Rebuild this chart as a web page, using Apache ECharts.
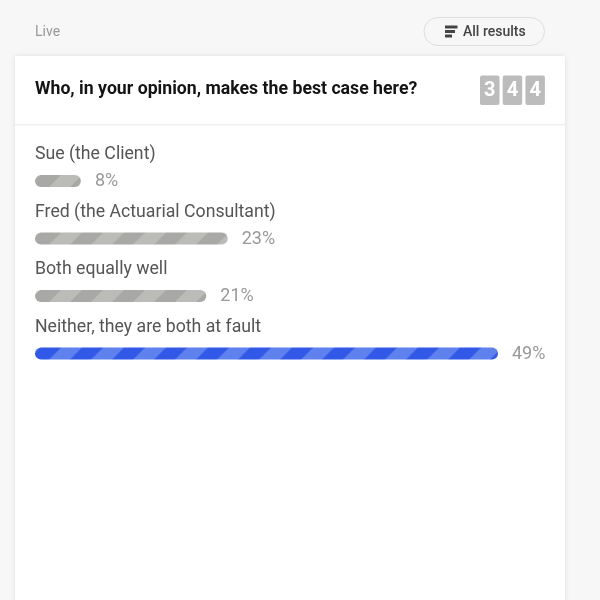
<!DOCTYPE html>
<html>
<head>
<meta charset="utf-8">
<style>
  html, body { margin: 0; padding: 0; background: #f7f7f7; }
  #main { width: 600px; height: 600px; }
</style>
<script src="https://cdn.jsdelivr.net/npm/echarts@6/dist/echarts.min.js"></script>
</head>
<body>
<div id="main"></div>
<script>
'use strict';
// 投票选项
var categories = ['Sue (the Client)', 'Fred (the Actuarial Consultant)', 'Both equally well', 'Neither, they are both at fault'];
// 条形长度读数
var barValues = [8.1, 22.5, 20.4, 49];
// 条形旁边显示的文字
var percentLabels = ['8%', '23%', '21%', '49%'];
var winnerIndex = 3;
var question = 'Who, in your opinion, makes the best case here?';
var voteDigits = ['3', '4', '4'];

var FONT = 'Roboto';
var GRID_TOP = 152.25;
var ROW_H = 57.5;

// 斜条纹贴图
function stripes(dark, light, rowIndex) {
    var size = 42;
    var lightW = 21;
    var c = document.createElement('canvas');
    c.width = size;
    c.height = size;
    var ctx = c.getContext('2d');
    ctx.fillStyle = dark;
    ctx.fillRect(0, 0, size, size);
    ctx.fillStyle = light;
    for (var k = -2; k < 2; k++) {
        ctx.beginPath();
        ctx.moveTo(k * size, size);
        ctx.lineTo(k * size + lightW, size);
        ctx.lineTo(k * size + size + lightW, 0);
        ctx.lineTo(k * size + size, 0);
        ctx.closePath();
        ctx.fill();
    }
    return {
        image: c,
        repeat: 'repeat',
        x: 7,
        y: GRID_TOP + ROW_H * rowIndex + 34.75
    };
}

var barData = barValues.map(function (v, i) {
    return {
        value: v,
        itemStyle: {
            color: i === winnerIndex ? stripes('#3158e6', '#5f81ee', i) : stripes('#a8a8a6', '#bbbbb8', i)
        },
        label: { formatter: percentLabels[i] }
    };
});

var badges = voteDigits.map(function (d, i) {
    return {
        type: 'group',
        children: [
            {
                type: 'rect',
                shape: { x: 480 + i * 22.7, y: 75.5, width: 19.5, height: 29.5, r: 2 },
                style: { fill: '#bcbcbc' }
            },
            {
                type: 'text',
                x: 489.8 + i * 22.7,
                y: 91,
                style: {
                    text: d, fill: '#fff', font: 'bold 20px ' + FONT,
                    align: 'center', verticalAlign: 'middle'
                }
            }
        ]
    };
});

var myChart = echarts.init(document.getElementById('main'), null, { renderer: 'canvas' });
myChart.setOption({
    backgroundColor: '#f7f7f7',
    animation: false,
    title: {
        text: question,
        left: 35,
        top: 81,
        padding: 0,
        textStyle: { fontFamily: FONT, fontSize: 17.7, fontWeight: 'bold', color: '#141414' }
    },
    graphic: {
        elements: [
            {
                type: 'rect',
                shape: { x: 15, y: 56, width: 550, height: 560 },
                style: { fill: '#fff', shadowBlur: 5, shadowColor: 'rgba(0,0,0,0.10)' }
            },
            {
                type: 'rect',
                shape: { x: 15, y: 124, width: 550, height: 1.5 },
                style: { fill: '#eeeff1' }
            },
            {
                type: 'text',
                x: 35,
                y: 32,
                style: { text: 'Live', fill: '#999', font: '14px ' + FONT, verticalAlign: 'middle' }
            },
            {
                type: 'rect',
                shape: { x: 424, y: 17.5, width: 120.5, height: 28, r: 14 },
                style: { fill: '#f7f7f7', stroke: '#dedede', lineWidth: 1 }
            },
            { type: 'rect', shape: { x: 445, y: 25.5, width: 12.5, height: 3 }, style: { fill: '#444' } },
            { type: 'rect', shape: { x: 445, y: 30, width: 10, height: 3 }, style: { fill: '#444' } },
            { type: 'rect', shape: { x: 445, y: 34.5, width: 7, height: 3 }, style: { fill: '#444' } },
            {
                type: 'text',
                x: 463,
                y: 32,
                style: { text: 'All results', fill: '#444', font: '500 14px ' + FONT, verticalAlign: 'middle' }
            }
        ].concat(badges)
    },
    grid: { left: 35, top: GRID_TOP, width: 463, height: ROW_H * categories.length, containLabel: false },
    xAxis: {
        type: 'value',
        min: 3.6,
        max: 49,
        show: false
    },
    yAxis: {
        type: 'category',
        inverse: true,
        data: categories,
        axisLine: { show: false },
        axisTick: { show: false },
        axisLabel: {
            inside: true,
            margin: 0,
            align: 'left',
            verticalAlign: 'bottom',
            padding: [0, 0, 17, 0],
            fontFamily: FONT,
            fontSize: 17.7,
            color: '#555'
        }
    },
    series: [
        {
            type: 'bar',
            barWidth: 12,
            data: barData,
            itemStyle: { borderRadius: 6 },
            label: {
                show: true,
                position: 'right',
                distance: 14,
                offset: [0, 0.5],
                fontFamily: FONT,
                fontSize: 18,
                color: '#999'
            }
        }
    ]
});
</script>
</body>
</html>
